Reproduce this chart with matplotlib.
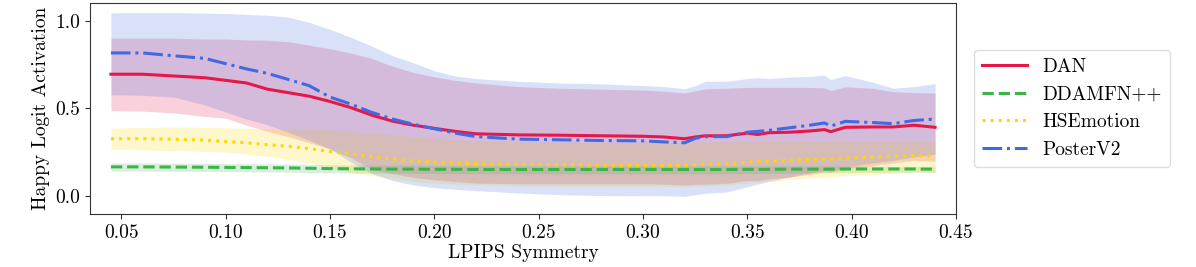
import matplotlib
matplotlib.use("Agg")
import matplotlib.pyplot as plt
import numpy as np

plt.rcParams['font.family'] = 'cmr10'
plt.rcParams['axes.formatter.use_mathtext'] = True
plt.rcParams['mathtext.fontset'] = 'cm'

# LPIPS symmetry bins
lpips = [0.045, 0.06, 0.075, 0.09, 0.10, 0.11, 0.12, 0.13, 0.14, 0.15,
         0.16, 0.17, 0.18, 0.19, 0.20, 0.21, 0.22, 0.24, 0.26, 0.28,
         0.30, 0.31, 0.32, 0.325, 0.33, 0.34, 0.35, 0.355, 0.36, 0.37,
         0.38, 0.387, 0.39, 0.397, 0.41, 0.42, 0.43, 0.44]

# DAN
dan_mean = [0.695, 0.695, 0.685, 0.675, 0.66, 0.645, 0.61, 0.59, 0.57, 0.54,
            0.505, 0.462, 0.428, 0.405, 0.387, 0.37, 0.356, 0.35, 0.348, 0.345,
            0.342, 0.338, 0.328, 0.338, 0.345, 0.345, 0.36, 0.352, 0.362, 0.365,
            0.372, 0.38, 0.368, 0.393, 0.395, 0.395, 0.405, 0.393]
dan_high = [0.90, 0.90, 0.90, 0.895, 0.895, 0.89, 0.888, 0.88, 0.86, 0.84,
            0.815, 0.785, 0.74, 0.705, 0.68, 0.66, 0.645, 0.625, 0.615, 0.61,
            0.605, 0.598, 0.588, 0.60, 0.612, 0.615, 0.62, 0.62, 0.62, 0.62,
            0.62, 0.617, 0.602, 0.623, 0.615, 0.595, 0.59, 0.588]
dan_low = [0.488, 0.485, 0.475, 0.455, 0.445, 0.405, 0.37, 0.34, 0.305, 0.27,
           0.22, 0.155, 0.13, 0.108, 0.095, 0.085, 0.076, 0.072, 0.072, 0.072,
           0.072, 0.07, 0.065, 0.068, 0.07, 0.075, 0.09, 0.09, 0.10, 0.11,
           0.125, 0.14, 0.135, 0.16, 0.175, 0.19, 0.205, 0.20]

# DDAMFN++
ddam_mean = [0.168, 0.168, 0.167, 0.166, 0.165, 0.164, 0.163, 0.162, 0.160, 0.158,
             0.157, 0.156, 0.155, 0.155, 0.154, 0.154, 0.153, 0.153, 0.153, 0.153,
             0.153, 0.153, 0.153, 0.153, 0.153, 0.153, 0.154, 0.154, 0.154, 0.155,
             0.155, 0.155, 0.155, 0.156, 0.156, 0.156, 0.156, 0.155]
ddam_high = [0.19, 0.19, 0.189, 0.188, 0.187, 0.186, 0.185, 0.184, 0.182, 0.180,
             0.179, 0.178, 0.177, 0.177, 0.176, 0.176, 0.175, 0.175, 0.175, 0.175,
             0.175, 0.175, 0.175, 0.175, 0.175, 0.175, 0.175, 0.175, 0.175, 0.175,
             0.174, 0.174, 0.173, 0.173, 0.172, 0.172, 0.172, 0.171]
ddam_low = [0.144, 0.144, 0.143, 0.142, 0.141, 0.14, 0.139, 0.138, 0.136, 0.134,
            0.133, 0.132, 0.131, 0.131, 0.13, 0.13, 0.129, 0.129, 0.129, 0.129,
            0.129, 0.129, 0.129, 0.129, 0.129, 0.129, 0.13, 0.13, 0.131, 0.132,
            0.133, 0.133, 0.134, 0.135, 0.136, 0.137, 0.138, 0.137]

# HSEmotion
hse_mean = [0.328, 0.328, 0.325, 0.32, 0.312, 0.305, 0.294, 0.285, 0.272, 0.255,
            0.242, 0.226, 0.212, 0.202, 0.195, 0.19, 0.186, 0.182, 0.18, 0.178,
            0.178, 0.177, 0.177, 0.18, 0.185, 0.186, 0.195, 0.198, 0.20, 0.205,
            0.21, 0.213, 0.213, 0.218, 0.223, 0.228, 0.233, 0.228]
hse_high = [0.389, 0.392, 0.395, 0.393, 0.39, 0.388, 0.385, 0.385, 0.385, 0.378,
            0.37, 0.36, 0.35, 0.34, 0.33, 0.322, 0.315, 0.31, 0.308, 0.307,
            0.307, 0.307, 0.307, 0.308, 0.31, 0.31, 0.312, 0.313, 0.313, 0.313,
            0.313, 0.313, 0.313, 0.313, 0.313, 0.313, 0.315, 0.313]
hse_low = [0.268, 0.265, 0.26, 0.256, 0.252, 0.24, 0.228, 0.21, 0.19, 0.165,
           0.135, 0.12, 0.10, 0.085, 0.075, 0.07, 0.066, 0.06, 0.057, 0.057,
           0.057, 0.057, 0.056, 0.058, 0.06, 0.065, 0.075, 0.08, 0.085, 0.095,
           0.105, 0.11, 0.112, 0.118, 0.125, 0.13, 0.14, 0.135]

# PosterV2
poster_mean = [0.816, 0.816, 0.80, 0.785, 0.755, 0.725, 0.70, 0.665, 0.63, 0.565,
               0.525, 0.478, 0.44, 0.41, 0.385, 0.36, 0.34, 0.326, 0.322, 0.318,
               0.316, 0.31, 0.305, 0.33, 0.34, 0.34, 0.365, 0.37, 0.375, 0.39,
               0.405, 0.418, 0.40, 0.427, 0.42, 0.414, 0.432, 0.44]
poster_high = [1.044, 1.045, 1.045, 1.042, 1.04, 1.035, 1.03, 1.02, 0.99, 0.95,
               0.905, 0.855, 0.80, 0.76, 0.715, 0.685, 0.67, 0.655, 0.645, 0.64,
               0.63, 0.625, 0.612, 0.63, 0.655, 0.655, 0.67, 0.675, 0.67, 0.678,
               0.683, 0.689, 0.664, 0.687, 0.65, 0.615, 0.625, 0.641]
poster_low = [0.579, 0.575, 0.565, 0.52, 0.48, 0.44, 0.408, 0.365, 0.32, 0.27,
              0.195, 0.13, 0.09, 0.065, 0.05, 0.04, 0.033, 0.02, 0.01, 0.005,
              0.004, 0.004, 0.0, 0.01, 0.018, 0.025, 0.055, 0.07, 0.085, 0.11,
              0.135, 0.148, 0.145, 0.168, 0.19, 0.205, 0.225, 0.24]

models = [
    ('DAN', dan_mean, dan_low, dan_high, '#e8174a', '-'),
    ('DDAMFN++', ddam_mean, ddam_low, ddam_high, '#3cb44b', '--'),
    ('HSEmotion', hse_mean, hse_low, hse_high, '#ffd700', ':'),
    ('PosterV2', poster_mean, poster_low, poster_high, '#4169e1', '-.'),
]

fig = plt.figure(figsize=(11.96, 2.67), dpi=100)
ax = fig.add_axes([0.0753, 0.1985, 0.724, 0.7903])

for name, mean, low, high, color, ls in models:
    ax.plot(lpips, mean, color=color, linestyle=ls, linewidth=2.2, label=name)
    ax.fill_between(lpips, low, high, color=color, alpha=0.2, linewidth=0)

ax.set_xlim(0.035, 0.45)
ax.set_ylim(-0.1, 1.1)
ax.set_xticks([0.05, 0.10, 0.15, 0.20, 0.25, 0.30, 0.35, 0.40, 0.45])
ax.set_xticklabels(['0.05', '0.10', '0.15', '0.20', '0.25', '0.30', '0.35', '0.40', '0.45'])
ax.set_yticks([0.0, 0.5, 1.0])
ax.set_yticklabels(['0.0', '0.5', '1.0'])
ax.tick_params(labelsize=14, color='#333333')
for s in ax.spines.values():
    s.set_color('#333333')
ax.set_xlabel('LPIPS Symmetry', fontsize=14, labelpad=2)
ax.set_ylabel('Happy Logit Activation', fontsize=14, labelpad=4)

ax.legend(loc='center left', bbox_to_anchor=(1.01, 0.5), fontsize=14,
          handlelength=2.3, framealpha=1, edgecolor='#dddddd')

fig.savefig('out.png', dpi=100)
